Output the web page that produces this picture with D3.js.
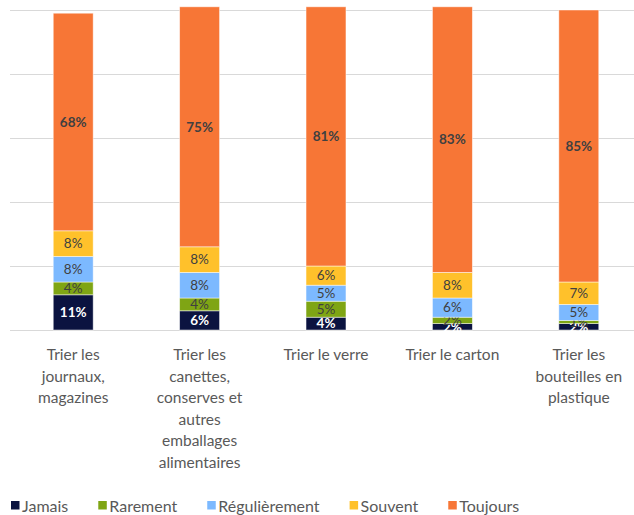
<!DOCTYPE html>
<html>
<head>
<meta charset="utf-8">
<script src="https://cdn.jsdelivr.net/npm/d3@7"></script>
<style>
  body { margin: 0; background: #fff; }
  svg { display: block; font-family: Lato, "Open Sans", sans-serif; }
</style>
</head>
<body>
<div id="chart"></div>
<script>
// categories (tick labels, already split into lines)
const categories = ['journaux', 'canettes', 'verre', 'carton', 'bouteilles'];
const categoryLines = [
  ['Trier les', 'journaux,', 'magazines'],
  ['Trier les', 'canettes,', 'conserves et', 'autres', 'emballages', 'alimentaires'],
  ['Trier le verre'],
  ['Trier le carton'],
  ['Trier les', 'bouteilles en', 'plastique']
];

// series values in %
const seriesNames = ['Jamais', 'Rarement', 'Régulièrement', 'Souvent', 'Toujours'];
const jamais = [11, 6, 4, 2, 2];
const rarement = [4, 4, 5, 2, 1];
const regulierement = [8, 8, 5, 6, 5];
const souvent = [8, 8, 6, 8, 7];
const toujours = [68, 75, 81, 83, 85];

const colors = ['#0b1340', '#7fa514', '#7cb9ff', '#ffc12b', '#f77636'];
const yTicks = [0, 20, 40, 60, 80, 100];

const width = 634, height = 515;
const margin = {top: 10, left: 10, bottom: 185};
const plotBottom = height - margin.bottom;

const table = categories.map(function (c, i) {
  return {
    cat: c,
    Jamais: jamais[i],
    Rarement: rarement[i],
    'Régulièrement': regulierement[i],
    Souvent: souvent[i],
    Toujours: toujours[i]
  };
});

const svg = d3.select('#chart').append('svg')
  .attr('width', width)
  .attr('height', height);

const x = d3.scaleBand()
  .domain(categories)
  .range([margin.left, 642])
  .paddingInner(0.684)
  .paddingOuter(0.342);

const y = d3.scaleLinear()
  .domain([0, 100])
  .range([plotBottom, margin.top]);

// gridlines
svg.append('g')
  .selectAll('line')
  .data(yTicks)
  .enter()
  .append('line')
  .attr('x1', margin.left)
  .attr('x2', width)
  .attr('y1', function (d) { return Math.round(y(d)) + 0.5; })
  .attr('y2', function (d) { return Math.round(y(d)) + 0.5; })
  .attr('stroke', '#d9d9d9')
  .attr('stroke-width', 1.2);

const stacked = d3.stack().keys(seriesNames)(table);

const layers = svg.selectAll('.layer')
  .data(stacked)
  .enter()
  .append('g')
  .attr('class', 'layer')
  .attr('fill', function (d, i) { return colors[i]; });

layers.selectAll('rect')
  .data(function (d) { return d; })
  .enter()
  .append('rect')
  .attr('x', function (d) { return x(d.data.cat); })
  .attr('width', x.bandwidth())
  .attr('y', function (d) { return y(d[1]); })
  .attr('height', function (d) { return y(d[0]) - y(d[1]); })
  .attr('stroke', '#ffffff')
  .attr('stroke-opacity', 0.6)
  .attr('stroke-width', 0.8);

// data labels
layers.each(function (layer, li) {
  d3.select(this).selectAll('text')
    .data(layer)
    .enter()
    .append('text')
    .attr('x', function (d) { return x(d.data.cat) + x.bandwidth() / 2; })
    .attr('y', function (d) { return (y(d[0]) + y(d[1])) / 2; })
    .attr('dy', '0.36em')
    .attr('text-anchor', 'middle')
    .attr('font-size', 13.5)
    .attr('font-weight', (li === 0 || li === 4) ? 'bold' : 'normal')
    .attr('fill', li === 0 ? '#ffffff' : '#404040')
    .text(function (d) { return (d[1] - d[0]) + '%'; });
});

// category axis labels
const catLabels = svg.append('g')
  .selectAll('text')
  .data(categories)
  .enter()
  .append('text')
  .attr('text-anchor', 'middle')
  .attr('font-size', 15.5)
  .attr('fill', '#595959')
  .attr('transform', function (d) {
    return `translate(${x(d) + x.bandwidth() / 2}, ${plotBottom + 30})`;
  });

catLabels.selectAll('tspan')
  .data(function (d, i) { return categoryLines[i]; })
  .enter()
  .append('tspan')
  .attr('x', 0)
  .attr('y', function (d, i) { return i * 21.6; })
  .text(function (d) { return d; });

// legend
const legend = svg.append('g')
  .attr('transform', `translate(11, ${height - 9})`);
let lx = 0;
seriesNames.forEach(function (name, i) {
  const g = legend.append('g').attr('transform', `translate(${lx}, 0)`);
  g.append('rect')
    .attr('x', 0)
    .attr('y', -5)
    .attr('width', 8.5)
    .attr('height', 8.5)
    .attr('fill', colors[i]);
  const t = g.append('text')
    .attr('x', 11)
    .attr('y', 0)
    .attr('dy', '0.36em')
    .attr('font-size', 16)
    .attr('fill', '#595959')
    .text(name);
  lx += 11 + t.node().getComputedTextLength() + 30;
});
</script>
</body>
</html>
